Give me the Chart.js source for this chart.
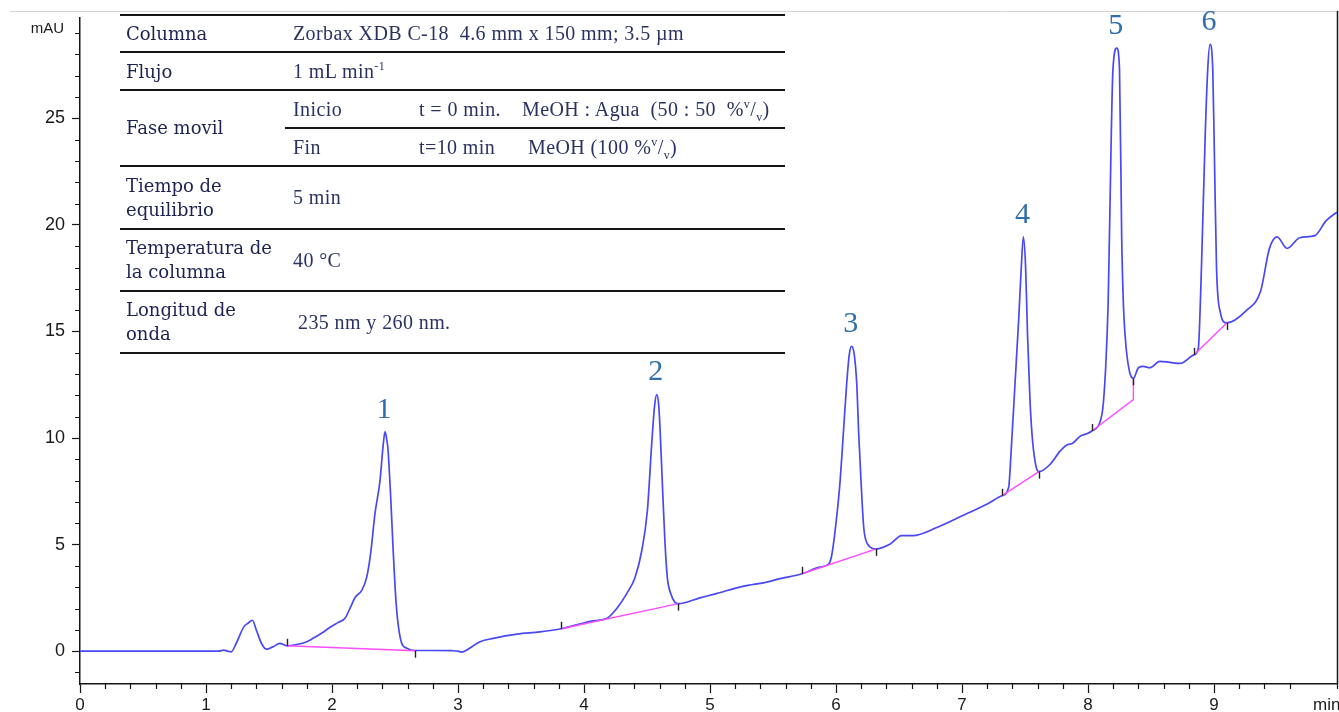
<!DOCTYPE html>
<html lang="es">
<head>
<meta charset="utf-8">
<title>Cromatograma</title>
<script src="https://cdn.jsdelivr.net/npm/chart.js@4.4.1/dist/chart.umd.min.js"></script>
<style>
    html, body { margin: 0; padding: 0; background: #fff; }
    #wrap { position: relative; width: 1339px; height: 712px; overflow: hidden; }
    #chart { position: absolute; left: 0; top: 0; }
    .rule { position: absolute; left: 120px; width: 665px; height: 2px; background: #151515; }
    .cell { position: absolute; display: flex; align-items: center; white-space: nowrap; }
    .lab { left: 126px; font-family: 'DejaVu Serif', serif; font-size: 18px; line-height: 24px; color: #1c2350; }
    .val { font-family: 'Liberation Serif', serif; font-size: 20px; color: #2a3360; letter-spacing: 0.4px; }
    sup, sub { font-size: 12px; line-height: 0; }
</style>
</head>
<body>
<div id="wrap">
    <canvas id="chart" width="1339" height="712"></canvas>

    <!-- tabla de condiciones -->
    <div class="rule" style="top:14px"></div>
    <div class="cell lab" style="top:15px;height:37px">Columna</div>
    <div class="cell val" style="left:293px;top:15px;height:37px"><span>Zorbax XDB C-18&nbsp; 4.6 mm x 150 mm; 3.5 µm</span></div>

    <div class="rule" style="top:51px"></div>
    <div class="cell lab" style="top:53px;height:37px">Flujo</div>
    <div class="cell val" style="left:293px;top:53px;height:37px"><span>1 mL min<sup>-1</sup></span></div>

    <div class="rule" style="top:89px"></div>
    <div class="cell lab" style="top:91px;height:74px">Fase movil</div>
    <div class="cell val" style="left:293px;top:91px;height:36px">Inicio</div>
    <div class="cell val" style="left:419px;top:91px;height:36px">t = 0 min.</div>
    <div class="cell val" style="left:522px;top:91px;height:36px"><span>MeOH : Agua&nbsp; (50 : 50&nbsp; %<sup>v</sup>/<sub>v</sub>)</span></div>
    <div class="rule" style="top:127px;left:285px;width:500px"></div>
    <div class="cell val" style="left:293px;top:129px;height:36px">Fin</div>
    <div class="cell val" style="left:419px;top:129px;height:36px">t=10 min</div>
    <div class="cell val" style="left:528px;top:129px;height:36px"><span>MeOH (100 %<sup>v</sup>/<sub>v</sub>)</span></div>

    <div class="rule" style="top:165px"></div>
    <div class="cell lab" style="top:167px;height:61px"><span>Tiempo de<br>equilibrio</span></div>
    <div class="cell val" style="left:293px;top:167px;height:61px">5 min</div>

    <div class="rule" style="top:228px"></div>
    <div class="cell lab" style="top:230px;height:60px"><span>Temperatura de<br>la columna</span></div>
    <div class="cell val" style="left:293px;top:230px;height:60px">40 °C</div>

    <div class="rule" style="top:290px"></div>
    <div class="cell lab" style="top:292px;height:60px"><span>Longitud de<br>onda</span></div>
    <div class="cell val" style="left:298px;top:292px;height:60px">235 nm y 260 nm.</div>
    <div class="rule" style="top:352px"></div>
</div>

<script>
const timeMin = [
    0, 0.5, 1.0, 1.10, 1.14, 1.17, 1.20, 1.24, 1.30, 1.336,
    1.368, 1.40, 1.44, 1.48, 1.53, 1.587, 1.614, 1.64, 1.72, 1.80,
    1.85, 1.92, 1.984, 2.05, 2.103, 2.15, 2.183, 2.236, 2.275, 2.307,
    2.341, 2.381, 2.405, 2.421, 2.435, 2.444, 2.466, 2.484, 2.506, 2.524,
    2.553, 2.593, 2.659, 2.80, 2.95, 3.00, 3.03, 3.06, 3.175, 3.28,
    3.47, 3.65, 3.82, 4.05, 4.19, 4.26, 4.339, 4.405, 4.458, 4.503,
    4.537, 4.56, 4.577, 4.592, 4.603, 4.625, 4.643, 4.661, 4.688, 4.722,
    4.749, 4.92, 5.05, 5.26, 5.45, 5.556, 5.73, 5.87, 5.944, 5.966,
    5.99, 6.03, 6.058, 6.084, 6.105, 6.124, 6.145, 6.165, 6.18, 6.20,
    6.22, 6.25, 6.32, 6.43, 6.52, 6.61, 6.80, 7.04, 7.20, 7.315,
    7.37, 7.39, 7.42, 7.45, 7.47, 7.487, 7.505, 7.52, 7.54, 7.56,
    7.59, 7.61, 7.70, 7.78, 7.84, 7.87, 7.94, 7.99, 8.03, 8.11,
    8.14, 8.16, 8.17, 8.198, 8.228, 8.25, 8.267, 8.28, 8.30, 8.33,
    8.36, 8.40, 8.44, 8.49, 8.57, 8.65, 8.73, 8.84, 8.875, 8.90,
    8.93, 8.95, 8.968, 8.99, 9.005, 9.02, 9.05, 9.10, 9.26, 9.37,
    9.44, 9.50, 9.58, 9.68, 9.80, 9.89, 9.976,
];

const absorbanceMAU = [
    0, 0, 0, 0, 0.05, 0, -0.03, 0.37, 1.14, 1.32,
    1.45, 0.98, 0.37, 0.09, 0.2, 0.36, 0.31, 0.25, 0.31, 0.44,
    0.6, 0.85, 1.12, 1.35, 1.54, 2.1, 2.52, 2.85, 3.46, 4.6,
    6.45, 8.0, 9.6, 10.3, 9.9, 9.5, 7.2, 4.9, 2.5, 1.3,
    0.37, 0.14, 0.03, 0.03, 0.02, 0.0, -0.05, 0.02, 0.44, 0.6,
    0.8, 0.9, 1.05, 1.4, 1.57, 2.0, 2.7, 3.46, 4.7, 6.6,
    9.7, 11.5, 12.04, 11.6, 10.5, 7.4, 5.05, 3.46, 2.7, 2.29,
    2.23, 2.5, 2.7, 3.04, 3.24, 3.4, 3.63, 3.94, 4.1, 4.5,
    5.5, 7.8, 10.2, 12.5, 13.9, 14.3, 13.9, 12.5, 10.2, 7.8,
    5.8, 5.03, 4.8, 5.03, 5.42, 5.42, 5.8, 6.46, 6.9, 7.29,
    7.68, 9.4, 12.5, 15.6, 17.96, 19.44, 17.96, 14.85, 11.7, 9.86,
    8.6, 8.42, 8.77, 9.4, 9.7, 9.73, 10.1, 10.2, 10.33, 11.1,
    13.3, 16.4, 19.5, 27.3, 28.3, 27.3, 19.5, 16.4, 14.4, 13.1,
    12.8, 13.3, 13.36, 13.3, 13.6, 13.55, 13.5, 13.9, 14.2, 17.96,
    24.2, 27.3, 28.47, 27.3, 22.6, 17.96, 15.9, 15.4, 16.0, 16.9,
    18.9, 19.44, 18.9, 19.4, 19.5, 20.2, 20.6,
];

// integración: inicio de línea base, fin de línea base y punto final sobre la señal
const baselineStarts = [[1.64, 0.25], [3.82, 1.05], [5.73, 3.63], [7.315, 7.29], [8.03, 10.33], [8.84, 13.9]];
const baselineEnds = [[2.659, 0.02], [4.749, 2.23], [6.32, 4.8], [7.61, 8.42], [8.36, 11.8], [9.10, 15.4]];
const integrationEnds = [[2.659, 0.02], [4.749, 2.23], [6.32, 4.8], [7.61, 8.42], [8.36, 12.8], [9.10, 15.4]];

const peakNames = ['1', '2', '3', '4', '5', '6'];
const peakTimes = [2.421, 4.577, 6.124, 7.487, 8.228, 8.968];
const peakHeights = [10.3, 12.04, 14.3, 19.44, 28.3, 28.47];

const X_MIN = 0;
const X_MAX = 9.976;
const Y_MIN = -1.542;
const Y_MAX = 29.72;

const AXIS_FONT = 'Liberation Sans';
const AXIS_COLOR = '#151515';
const TRACE_COLOR = '#4848f4';
const BASELINE_COLOR = '#ff4cff';
const PEAK_LABEL_COLOR = '#2f6fab';

const tracePoints = timeMin.map((t, i) => ({ x: t, y: absorbanceMAU[i] }));

const baselinePoints = [];
baselineStarts.forEach((start, i) => {
    baselinePoints.push({ x: start[0], y: start[1] });
    baselinePoints.push({ x: baselineEnds[i][0], y: baselineEnds[i][1] });
    baselinePoints.push({ x: integrationEnds[i][0], y: integrationEnds[i][1] });
    baselinePoints.push({ x: integrationEnds[i][0], y: null });
});

function isWhole(v) {
    return Math.abs(v - Math.round(v)) < 1e-6;
}

// las marcas largas las pinta Chart.js; las cortas (menores) se pintan aquí
function majorTickColor(ctx) {
    return isWhole(ctx.tick.value) ? AXIS_COLOR : 'rgba(0,0,0,0)';
}

const chromOverlay = {
    id: 'chromOverlay',
    afterDatasetsDraw(chart) {
        const { ctx, chartArea } = chart;
        const x = chart.scales.x;
        const y = chart.scales.y;
        ctx.save();

        // marco superior y derecho
        ctx.strokeStyle = '#d4d4d4';
        ctx.lineWidth = 1;
        ctx.beginPath();
        ctx.moveTo(10, 11.5);
        ctx.lineTo(chart.width, 11.5);
        ctx.stroke();
        ctx.strokeStyle = AXIS_COLOR;
        ctx.lineWidth = 1.5;
        ctx.beginPath();
        ctx.moveTo(chartArea.right + 0.5, 11);
        ctx.lineTo(chartArea.right + 0.5, chartArea.bottom);
        ctx.stroke();

        // marcas menores de los ejes
        ctx.lineWidth = 1.2;
        ctx.beginPath();
        x.ticks.forEach(tk => {
            if (isWhole(tk.value)) return;
            const px = Math.round(x.getPixelForValue(tk.value)) + 0.5;
            ctx.moveTo(px, chartArea.bottom);
            ctx.lineTo(px, chartArea.bottom + 5);
        });
        y.ticks.forEach(tk => {
            if (isWhole(tk.value / 5)) return;
            const py = Math.round(y.getPixelForValue(tk.value)) + 0.5;
            ctx.moveTo(chartArea.left, py);
            ctx.lineTo(chartArea.left - 5, py);
        });
        ctx.stroke();

        // marcas de inicio / fin de integración
        ctx.strokeStyle = '#222';
        ctx.lineWidth = 1.4;
        baselineStarts.forEach(([t, v]) => {
            const px = Math.round(x.getPixelForValue(t)) + 0.5;
            const py = y.getPixelForValue(v);
            ctx.beginPath();
            ctx.moveTo(px, py);
            ctx.lineTo(px, py - 7);
            ctx.stroke();
        });
        integrationEnds.forEach(([t, v]) => {
            const px = Math.round(x.getPixelForValue(t)) + 0.5;
            const py = y.getPixelForValue(v);
            ctx.beginPath();
            ctx.moveTo(px, py);
            ctx.lineTo(px, py + 7);
            ctx.stroke();
        });

        // números de pico
        ctx.fillStyle = PEAK_LABEL_COLOR;
        ctx.font = '30px "Liberation Serif"';
        ctx.textAlign = 'center';
        ctx.textBaseline = 'middle';
        peakNames.forEach((name, i) => {
            const px = x.getPixelForValue(peakTimes[i]);
            const py = y.getPixelForValue(peakHeights[i]);
            ctx.fillText(name, px - 1, py - 22);
        });

        // unidades
        ctx.fillStyle = '#1a1a1a';
        ctx.font = `15px "${AXIS_FONT}"`;
        ctx.textAlign = 'right';
        ctx.fillText('mAU', 64, y.getPixelForValue(29) - 4);
        ctx.font = `17px "${AXIS_FONT}"`;
        ctx.textAlign = 'left';
        ctx.fillText('min', 1313, chartArea.bottom + 21);

        ctx.restore();
    },
};

new Chart(document.getElementById('chart'), {
    type: 'scatter',
    data: {
        datasets: [
            {
                label: 'Señal',
                data: tracePoints,
                showLine: true,
                borderColor: TRACE_COLOR,
                borderWidth: 1.7,
                pointRadius: 0,
                cubicInterpolationMode: 'monotone',
                order: 1,
            },
            {
                label: 'Línea base',
                data: baselinePoints,
                showLine: true,
                spanGaps: false,
                borderColor: BASELINE_COLOR,
                borderWidth: 1.4,
                pointRadius: 0,
                tension: 0,
                order: 0,
            },
        ],
    },
    options: {
        responsive: false,
        devicePixelRatio: 1,
        animation: false,
        events: [],
        layout: { padding: { top: 15, right: 2, left: 0, bottom: 0 } },
        plugins: {
            legend: { display: false },
            tooltip: { enabled: false },
        },
        scales: {
            x: {
                type: 'linear',
                position: 'bottom',
                min: X_MIN,
                max: X_MAX,
                afterFit(scale) { scale.height = 28; },
                border: { display: true, color: AXIS_COLOR, width: 1.5 },
                grid: {
                    drawOnChartArea: false,
                    drawTicks: true,
                    tickLength: 9,
                    tickColor: majorTickColor,
                    tickWidth: 1.2,
                },
                ticks: {
                    stepSize: 0.2,
                    autoSkip: false,
                    maxRotation: 0,
                    padding: 2,
                    color: '#1a1a1a',
                    font: { family: AXIS_FONT, size: 17 },
                    callback(value) {
                        return isWhole(value) ? String(Math.round(value)) : '';
                    },
                },
            },
            y: {
                type: 'linear',
                min: Y_MIN,
                max: Y_MAX,
                afterFit(scale) { scale.width = 80; },
                border: { display: true, color: AXIS_COLOR, width: 1.5 },
                grid: {
                    drawOnChartArea: false,
                    drawTicks: true,
                    tickLength: 8,
                    tickColor: ctx => (isWhole(ctx.tick.value / 5) ? AXIS_COLOR : 'rgba(0,0,0,0)'),
                    tickWidth: 1.2,
                },
                ticks: {
                    stepSize: 1,
                    includeBounds: false,
                    autoSkip: false,
                    padding: 7,
                    color: '#1a1a1a',
                    font: { family: AXIS_FONT, size: 18 },
                    callback(value) {
                        return isWhole(value) && Math.round(value) % 5 === 0 ? String(Math.round(value)) : '';
                    },
                },
            },
        },
    },
    plugins: [chromOverlay],
});
</script>
</body>
</html>
